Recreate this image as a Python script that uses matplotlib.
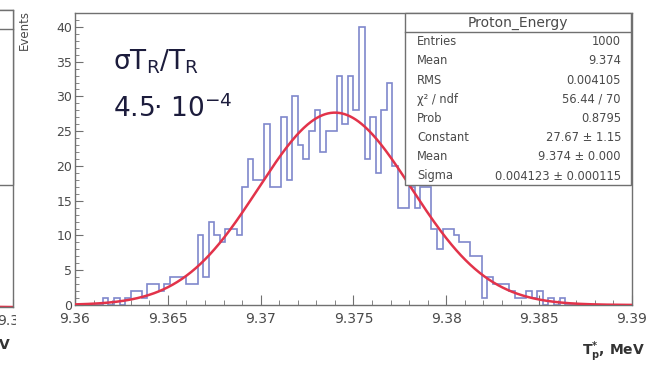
import numpy as np
import matplotlib
matplotlib.use("Agg")
import matplotlib.pyplot as plt
from matplotlib.patches import Rectangle
from matplotlib.lines import Line2D
from matplotlib.ticker import MultipleLocator, FuncFormatter

plt.rcParams['font.family'] = ['DejaVu Sans']

# ---- data -------------------------------------------------------------
x_min, x_max, n_bins = 9.36, 9.39, 100
counts = [0, 0, 0, 0, 0, 1, 0, 1, 0, 1,
          2, 2, 1, 3, 3, 2, 3, 4, 4, 4,
          3, 3, 10, 4, 12, 10, 9, 11, 11, 10,
          17, 21, 18, 18, 26, 17, 17, 27, 18, 30,
          23, 21, 25, 28, 22, 25, 25, 33, 26, 33,
          28, 40, 21, 27, 19, 28, 32, 20, 14, 14,
          17, 14, 17, 17, 11, 8, 11, 11, 10, 9,
          9, 7, 7, 1, 4, 3, 3, 3, 2, 1,
          1, 2, 1, 2, 0, 1, 0, 1, 0, 0,
          0, 0, 0, 0, 0, 0, 0, 0, 0, 0]

fit_const = 27.67
fit_mean = 9.374
fit_sigma = 0.004123

x_ticks = [9.36, 9.365, 9.37, 9.375, 9.38, 9.385, 9.39]
y_ticks = [0, 5, 10, 15, 20, 25, 30, 35, 40]

stats_title = "Proton_Energy"
stat_labels = ["Entries", "Mean", "RMS", "\u03c7\u00b2 / ndf", "Prob",
               "Constant", "Mean", "Sigma"]
stat_values = ["1000", "9.374", "0.004105", "56.44 / 70", "0.8795",
               "27.67 \u00b1 1.15", "9.374 \u00b1 0.000",
               "0.004123 \u00b1 0.000115"]

x_label = "T$_\\mathregular{p}^\\mathregular{*}$, MeV"
y_label = "Events"
note_line1 = "\u03c3T$_\\mathregular{R}$/T$_\\mathregular{R}$"
note_line2 = "4.5\u00b7 10$^\\mathregular{-4}$"

# ---- figure -----------------------------------------------------------
W, H = 648, 365
fig = plt.figure(figsize=(W / 100, H / 100), dpi=100)
fig.patch.set_facecolor("white")


def fx(px):
    return px / W


def fy(py):
    return 1 - py / H


axis_col = "#707070"
text_col = "#4a4a4a"
hist_col = "#7f87cc"
fit_col = "#e2334a"


def gauss(x):
    return fit_const * np.exp(-0.5 * ((x - fit_mean) / fit_sigma) ** 2)


edges = np.linspace(x_min, x_max, n_bins + 1)
xs = np.linspace(x_min, x_max, 600)

# neighbouring panel, mostly outside the canvas
ax0 = fig.add_axes([fx(-420), fy(307), fx(433), (307 - 10) / H])
ax0.plot(xs, gauss(xs), color=fit_col, lw=1.6)
ax0.set_xlim(x_min, x_max)
ax0.set_ylim(0, 42)
ax0.set_xticks([x_max])
ax0.set_xticklabels(["9.39"])
ax0.set_yticks([])
ax0.tick_params(axis='x', direction='in', length=6, colors=axis_col,
                labelcolor=text_col, labelsize=10, pad=5)
for s in ax0.spines.values():
    s.set_color(axis_col)
    s.set_linewidth(1.0)
fig.add_artist(Rectangle((fx(-300), fy(185)), fx(313), (185 - 10) / H,
                         transform=fig.transFigure, facecolor="white",
                         edgecolor=axis_col, lw=1.0, zorder=5))
fig.add_artist(Line2D([fx(-300), fx(13)], [fy(29), fy(29)],
                      transform=fig.transFigure, color=axis_col, lw=1.0,
                      zorder=6))
fig.add_artist(Rectangle((fx(15.5), fy(334)), fx(22), 26 / H,
                         transform=fig.transFigure, facecolor="white",
                         edgecolor="none", zorder=7))
fig.text(fx(11), fy(347), x_label, ha="right", va="center",
         fontsize=10, fontweight="bold", color="#333333")

# main panel
ax = fig.add_axes([fx(75), fy(305), fx(632 - 75), (305 - 13) / H])
ax.stairs(counts, edges, color=hist_col, lw=1.2, zorder=2)
ax.plot(xs, gauss(xs), color=fit_col, lw=1.8, zorder=3)
ax.set_xlim(x_min, x_max)
ax.set_ylim(0, 42)

ax.set_xticks(x_ticks)
ax.xaxis.set_minor_locator(MultipleLocator(0.001))
ax.xaxis.set_major_formatter(FuncFormatter(lambda v, p: f"{v:.3f}".rstrip("0")))
ax.set_yticks(y_ticks)
ax.yaxis.set_minor_locator(MultipleLocator(1))
ax.tick_params(axis='both', which='both', direction='in', colors=axis_col,
               labelcolor=text_col, top=False, right=False)
ax.tick_params(axis='x', which='major', length=7, labelsize=10, pad=5)
ax.tick_params(axis='x', which='minor', length=3.5)
ax.tick_params(axis='y', which='major', length=6, labelsize=9, pad=2)
ax.tick_params(axis='y', which='minor', length=3)
for s in ax.spines.values():
    s.set_color(axis_col)
    s.set_linewidth(1.0)

fig.text(fx(24), fy(10), y_label, rotation=90, ha="center", va="top",
         fontsize=8.5, color=text_col)
fig.text(fx(645), fy(352), x_label, ha="right", va="center",
         fontsize=10, fontweight="bold", color="#333333")

fig.text(fx(113), fy(69), note_line1, ha="left", va="baseline",
         fontsize=19, color="#1c1c3c")
fig.text(fx(113), fy(117), note_line2, ha="left", va="baseline",
         fontsize=19, color="#1c1c3c")

# statistics box
bx0, bx1, by0, by1 = 405, 631, 13, 185
fig.add_artist(Rectangle((fx(bx0), fy(by1)), fx(bx1 - bx0), (by1 - by0) / H,
                         transform=fig.transFigure, facecolor="white",
                         edgecolor=axis_col, lw=1.0, zorder=5))
fig.add_artist(Line2D([fx(bx0), fx(bx1)], [fy(32), fy(32)],
                      transform=fig.transFigure, color=axis_col, lw=1.0,
                      zorder=6))
fig.text(fx(518), fy(22.5), stats_title, ha="center",
         va="center", fontsize=10, color=text_col, zorder=7)
row_y = [41.7, 61, 80, 99.3, 118.3, 137.3, 156, 176]
for yy, lab, val in zip(row_y, stat_labels, stat_values):
    fig.text(fx(417), fy(yy), lab, ha="left", va="center", fontsize=8.3,
             color=text_col, zorder=7)
    fig.text(fx(621), fy(yy), val, ha="right", va="center", fontsize=8.3,
             color=text_col, zorder=7)

fig.savefig("out.png", dpi=100)
